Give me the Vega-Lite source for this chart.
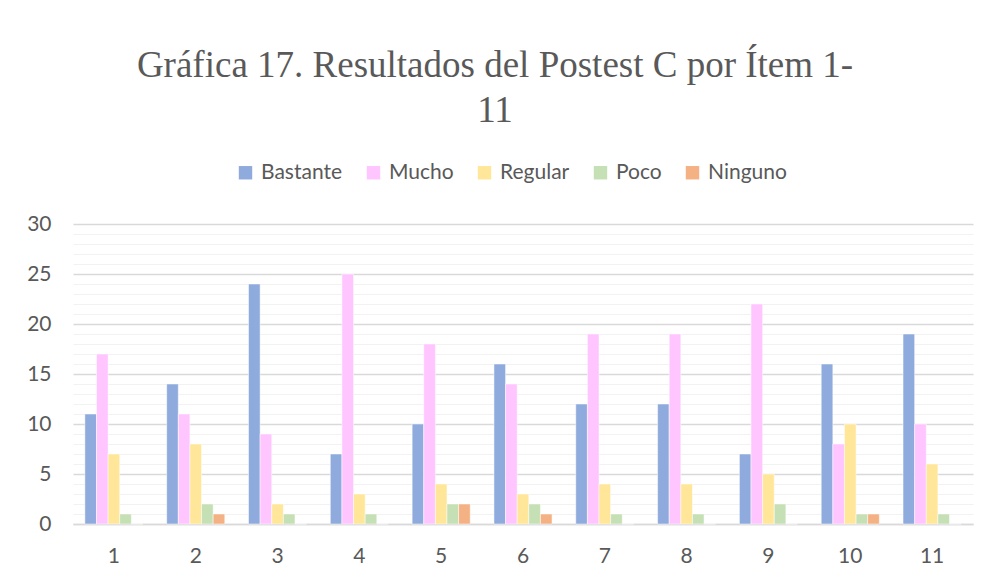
{
  "$schema": "https://vega.github.io/schema/vega-lite/v6.json",
  "autosize": "none",
  "width": 900,
  "height": 300,
  "padding": {"left": 73, "top": 224, "right": 16, "bottom": 60},
  "background": "white",
  "title": {
    "text": ["Gráfica 17. Resultados del Postest C por Ítem 1-", "11"],
    "font": "Liberation Serif",
    "fontSize": 37,
    "fontWeight": "normal",
    "color": "#595959",
    "anchor": "middle",
    "frame": "group",
    "offset": 32,
    "dx": -28,
    "lineHeight": 45
  },
  "data": {
    "values": [
      {"item": "1", "nivel": "Bastante", "valor": 11},
      {"item": "1", "nivel": "Mucho", "valor": 17},
      {"item": "1", "nivel": "Regular", "valor": 7},
      {"item": "1", "nivel": "Poco", "valor": 1},
      {"item": "1", "nivel": "Ninguno", "valor": 0},
      {"item": "2", "nivel": "Bastante", "valor": 14},
      {"item": "2", "nivel": "Mucho", "valor": 11},
      {"item": "2", "nivel": "Regular", "valor": 8},
      {"item": "2", "nivel": "Poco", "valor": 2},
      {"item": "2", "nivel": "Ninguno", "valor": 1},
      {"item": "3", "nivel": "Bastante", "valor": 24},
      {"item": "3", "nivel": "Mucho", "valor": 9},
      {"item": "3", "nivel": "Regular", "valor": 2},
      {"item": "3", "nivel": "Poco", "valor": 1},
      {"item": "3", "nivel": "Ninguno", "valor": 0},
      {"item": "4", "nivel": "Bastante", "valor": 7},
      {"item": "4", "nivel": "Mucho", "valor": 25},
      {"item": "4", "nivel": "Regular", "valor": 3},
      {"item": "4", "nivel": "Poco", "valor": 1},
      {"item": "4", "nivel": "Ninguno", "valor": 0},
      {"item": "5", "nivel": "Bastante", "valor": 10},
      {"item": "5", "nivel": "Mucho", "valor": 18},
      {"item": "5", "nivel": "Regular", "valor": 4},
      {"item": "5", "nivel": "Poco", "valor": 2},
      {"item": "5", "nivel": "Ninguno", "valor": 2},
      {"item": "6", "nivel": "Bastante", "valor": 16},
      {"item": "6", "nivel": "Mucho", "valor": 14},
      {"item": "6", "nivel": "Regular", "valor": 3},
      {"item": "6", "nivel": "Poco", "valor": 2},
      {"item": "6", "nivel": "Ninguno", "valor": 1},
      {"item": "7", "nivel": "Bastante", "valor": 12},
      {"item": "7", "nivel": "Mucho", "valor": 19},
      {"item": "7", "nivel": "Regular", "valor": 4},
      {"item": "7", "nivel": "Poco", "valor": 1},
      {"item": "7", "nivel": "Ninguno", "valor": 0},
      {"item": "8", "nivel": "Bastante", "valor": 12},
      {"item": "8", "nivel": "Mucho", "valor": 19},
      {"item": "8", "nivel": "Regular", "valor": 4},
      {"item": "8", "nivel": "Poco", "valor": 1},
      {"item": "8", "nivel": "Ninguno", "valor": 0},
      {"item": "9", "nivel": "Bastante", "valor": 7},
      {"item": "9", "nivel": "Mucho", "valor": 22},
      {"item": "9", "nivel": "Regular", "valor": 5},
      {"item": "9", "nivel": "Poco", "valor": 2},
      {"item": "9", "nivel": "Ninguno", "valor": 0},
      {"item": "10", "nivel": "Bastante", "valor": 16},
      {"item": "10", "nivel": "Mucho", "valor": 8},
      {"item": "10", "nivel": "Regular", "valor": 10},
      {"item": "10", "nivel": "Poco", "valor": 1},
      {"item": "10", "nivel": "Ninguno", "valor": 1},
      {"item": "11", "nivel": "Bastante", "valor": 19},
      {"item": "11", "nivel": "Mucho", "valor": 10},
      {"item": "11", "nivel": "Regular", "valor": 6},
      {"item": "11", "nivel": "Poco", "valor": 1},
      {"item": "11", "nivel": "Ninguno", "valor": 0}
    ]
  },
  "mark": {"type": "bar", "stroke": "white", "strokeWidth": 0.5},
  "encoding": {
    "x": {
      "field": "item",
      "type": "nominal",
      "sort": null,
      "scale": {"paddingInner": 0.29, "paddingOuter": 0.145},
      "axis": {
        "title": null,
        "labelAngle": 0,
        "ticks": false,
        "labelPadding": 21,
        "labelFont": "Lato",
        "labelFontSize": 21,
        "labelColor": "#595959",
        "domainColor": "#D9D9D9",
        "domainWidth": 1.5
      }
    },
    "xOffset": {
      "field": "nivel",
      "type": "nominal",
      "sort": ["Bastante", "Mucho", "Regular", "Poco", "Ninguno"],
      "scale": {"paddingInner": 0, "paddingOuter": 0}
    },
    "y": {
      "field": "valor",
      "type": "quantitative",
      "scale": {"domain": [0, 30], "nice": false},
      "axis": {
        "title": null,
        "values": [0,1,2,3,4,5,6,7,8,9,10,11,12,13,14,15,16,17,18,19,20,21,22,23,24,25,26,27,28,29,30],
        "labelExpr": "datum.value % 5 === 0 ? datum.label : ''",
        "ticks": false,
        "domain": false,
        "labelPadding": 22,
        "labelFont": "Lato",
        "labelFontSize": 21,
        "labelColor": "#595959",
        "gridColor": {"condition": {"test": "datum.value % 5 === 0", "value": "#D9D9D9"}, "value": "#F2F2F2"},
        "gridWidth": {"condition": {"test": "datum.value % 5 === 0", "value": 1.5}, "value": 1.2}
      }
    },
    "color": {
      "field": "nivel",
      "type": "nominal",
      "sort": ["Bastante", "Mucho", "Regular", "Poco", "Ninguno"],
      "scale": {
        "domain": ["Bastante", "Mucho", "Regular", "Poco", "Ninguno"],
        "range": ["#8FAADC", "#FFC5FF", "#FFE699", "#C5E0B4", "#F4B183"]
      },
      "legend": {
        "title": null,
        "orient": "none",
        "direction": "horizontal",
        "legendX": 162,
        "legendY": -62,
        "symbolType": "square",
        "symbolSize": 180,
        "symbolStrokeWidth": 0,
        "labelFont": "Lato",
        "labelFontSize": 21,
        "labelColor": "#595959",
        "columnPadding": 20,
        "labelOffset": 5
      }
    }
  },
  "config": {"view": {"stroke": null}}
}
